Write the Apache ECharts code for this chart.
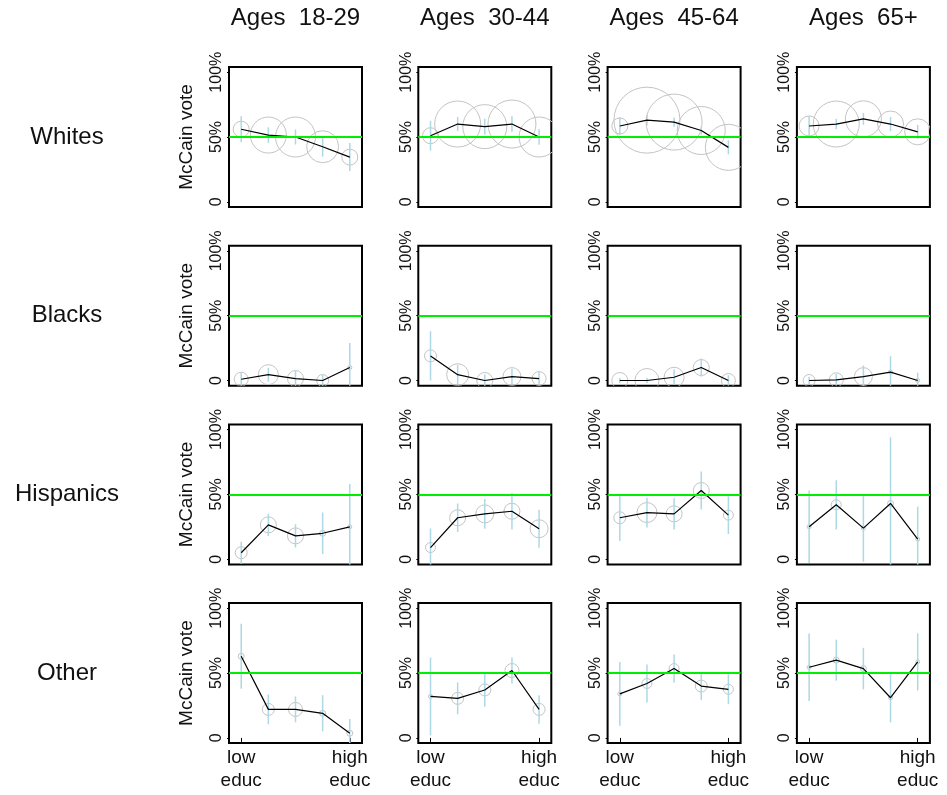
<!DOCTYPE html>
<html>
<head>
<meta charset="utf-8">
<script src="https://cdn.jsdelivr.net/npm/echarts@6/dist/echarts.min.js"></script>
<style>
  html, body { margin: 0; background: #fff; }
  #chart { width: 947px; height: 795px; }
</style>
</head>
<body>
<div id="chart"></div>
<script>
const ageGroups = ['Ages  18-29', 'Ages  30-44', 'Ages  45-64', 'Ages  65+'];
const races = ['Whites', 'Blacks', 'Hispanics', 'Other'];
const educLevels = [1, 2, 3, 4, 5];
const xTickValues = [1, 5];
const xTickLabels = ['low\neduc', 'high\neduc'];
const yTickValues = [0, 0.5, 1];
const yTickLabels = ['0', '50%', '100%'];
const evenSplit = 0.5;

// McCain share by education level, one row per age group
const whitesVote = [
  [0.56, 0.515, 0.50, 0.425, 0.345],
  [0.51, 0.60, 0.58, 0.60, 0.50],
  [0.585, 0.63, 0.615, 0.55, 0.42],
  [0.585, 0.60, 0.64, 0.60, 0.54]
];
const whitesSe = [
  [0.10, 0.06, 0.058, 0.077, 0.108],
  [0.115, 0.054, 0.06, 0.06, 0.06],
  [0.07, 0.04, 0.035, 0.03, 0.054],
  [0.077, 0.04, 0.046, 0.054, 0.054]
];
const whitesN = [
  [64, 324, 400, 256, 64],
  [64, 529, 484, 576, 400],
  [64, 1089, 784, 576, 529],
  [100, 529, 324, 169, 169]
];

const blacksVote = [
  [0.01, 0.045, 0.015, 0.0, 0.10],
  [0.19, 0.045, 0.0, 0.03, 0.015],
  [0.0, 0.0, 0.025, 0.10, 0.0],
  [0.0, 0.005, 0.03, 0.065, 0.0]
];
const blacksSe = [
  [0.054, 0.054, 0.06, 0.046, 0.19],
  [0.19, 0.077, 0.046, 0.06, 0.054],
  [0.02, 0.02, 0.06, 0.07, 0.04],
  [0.03, 0.046, 0.085, 0.123, 0.06]
];
const blacksN = [
  [49, 100, 64, 36, 4],
  [36, 121, 64, 81, 49],
  [64, 144, 100, 64, 49],
  [36, 49, 81, 4, 4]
];

const hispanicsVote = [
  [0.05, 0.265, 0.18, 0.20, 0.25],
  [0.09, 0.32, 0.35, 0.37, 0.235],
  [0.32, 0.36, 0.35, 0.53, 0.34],
  [0.25, 0.42, 0.24, 0.43, 0.155]
];
const hispanicsSe = [
  [0.085, 0.085, 0.09, 0.16, 0.33],
  [0.146, 0.11, 0.115, 0.14, 0.146],
  [0.18, 0.115, 0.12, 0.146, 0.146],
  [0.28, 0.19, 0.26, 0.51, 0.25]
];
const hispanicsN = [
  [36, 64, 64, 9, 4],
  [25, 64, 81, 64, 81],
  [36, 100, 64, 64, 25],
  [4, 25, 4, 9, 4]
];

const otherVote = [
  [0.63, 0.22, 0.22, 0.19, 0.036],
  [0.32, 0.305, 0.37, 0.52, 0.22],
  [0.34, 0.42, 0.535, 0.40, 0.375],
  [0.545, 0.60, 0.535, 0.31, 0.587]
];
const otherSe = [
  [0.25, 0.115, 0.10, 0.14, 0.11],
  [0.30, 0.123, 0.13, 0.10, 0.11],
  [0.246, 0.146, 0.108, 0.108, 0.115],
  [0.26, 0.158, 0.16, 0.19, 0.22]
];
const otherN = [
  [9, 36, 49, 9, 9],
  [4, 36, 36, 49, 36],
  [4, 25, 25, 36, 25],
  [4, 9, 9, 4, 4]
];

const raceVote = [whitesVote, blacksVote, hispanicsVote, otherVote];
const raceSe = [whitesSe, blacksSe, hispanicsSe, otherSe];
const raceN = [whitesN, blacksN, hispanicsN, otherN];

// panel layout
const LEFT0 = 229, COL_STEP = 189.3, GRID_W = 133;
const TOP0 = 67, ROW_STEP = 178.7, GRID_H = 140;
const FONT = '"Liberation Sans", Arial, sans-serif';

function renderCell(params, api) {
  const x = api.value(0), v = api.value(1), se = api.value(2), n = api.value(3);
  const c = api.coord([x, v]);
  const hi = api.coord([x, v + se]);
  const lo = api.coord([x, v - se]);
  const children = [];
  if (n > 0) {
    children.push({
      type: 'circle',
      shape: { cx: c[0], cy: c[1], r: Math.sqrt(n) },
      style: { fill: 'none', stroke: '#c4c4c4', lineWidth: 1 }
    });
  }
  children.push({
    type: 'line',
    shape: { x1: c[0], y1: hi[1], x2: c[0], y2: lo[1] },
    style: { stroke: '#add8e6', lineWidth: 1.5 }
  });
  return { type: 'group', children };
}

const grids = [], xAxes = [], yAxes = [], series = [], graphics = [];

races.forEach((race, r) => {
  const bottomRow = r === races.length - 1;
  ageGroups.forEach((age, c) => {
    const i = r * ageGroups.length + c;
    grids.push({
      left: LEFT0 + c * COL_STEP, top: TOP0 + r * ROW_STEP,
      width: GRID_W, height: GRID_H,
      show: true, borderColor: '#000', borderWidth: 2,
      backgroundColor: 'transparent', outerBoundsMode: 'none'
    });
    xAxes.push({
      type: 'value', gridIndex: i, min: 0.55, max: 5.45,
      axisLine: { show: false }, splitLine: { show: false },
      axisTick: { show: bottomRow, customValues: xTickValues, length: 4, lineStyle: { color: '#000' } },
      axisLabel: {
        show: bottomRow, customValues: xTickValues, margin: 3,
        formatter: v => xTickLabels[xTickValues.indexOf(v)],
        fontFamily: FONT, fontSize: 19, lineHeight: 23, color: '#111'
      }
    });
    yAxes.push({
      type: 'value', gridIndex: i, min: -0.04, max: 1.04,
      axisLine: { show: false }, splitLine: { show: false },
      axisTick: { show: true, customValues: yTickValues, length: 2, lineStyle: { color: '#000' } },
      axisLabel: {
        customValues: yTickValues, rotate: 90, margin: 4,
        formatter: v => yTickLabels[yTickValues.indexOf(v)],
        fontFamily: FONT, fontSize: 16, color: '#111'
      },
      name: c === 0 ? 'McCain vote' : '',
      nameLocation: 'middle', nameRotate: 90, nameGap: 33,
      nameTextStyle: { fontFamily: FONT, fontSize: 19, color: '#111' }
    });

    const pts = educLevels.map((e, k) => [e, raceVote[r][c][k], raceSe[r][c][k], raceN[r][c][k]]);

    series.push({
      type: 'line', xAxisIndex: i, yAxisIndex: i, data: [], silent: true, z: 1,
      markLine: {
        silent: true, symbol: 'none', label: { show: false },
        lineStyle: { color: '#00ee00', width: 2, type: 'solid' },
        data: [{ yAxis: evenSplit }]
      }
    });
    series.push({
      type: 'custom', xAxisIndex: i, yAxisIndex: i, clip: true, silent: true, z: 2,
      data: pts, encode: { x: 0, y: 1 }, renderItem: renderCell
    });
    series.push({
      type: 'line', xAxisIndex: i, yAxisIndex: i, silent: true, z: 3,
      data: pts.map(p => [p[0], p[1]]), symbol: 'none',
      lineStyle: { color: '#000', width: 1.2 }
    });
  });

  graphics.push({
    type: 'text', x: 67, y: TOP0 + r * ROW_STEP + GRID_H / 2,
    style: { text: race, textAlign: 'center', textVerticalAlign: 'middle', font: '24px ' + FONT, fill: '#111' }
  });
});

ageGroups.forEach((age, c) => {
  graphics.push({
    type: 'text', x: LEFT0 + c * COL_STEP + GRID_W / 2, y: 18,
    style: { text: age, textAlign: 'center', textVerticalAlign: 'middle', font: '24px ' + FONT, fill: '#111' }
  });
});

const chart = echarts.init(document.getElementById('chart'));
chart.setOption({
  animation: false,
  backgroundColor: '#fff',
  grid: grids,
  xAxis: xAxes,
  yAxis: yAxes,
  series: series,
  graphic: graphics
});
</script>
</body>
</html>
